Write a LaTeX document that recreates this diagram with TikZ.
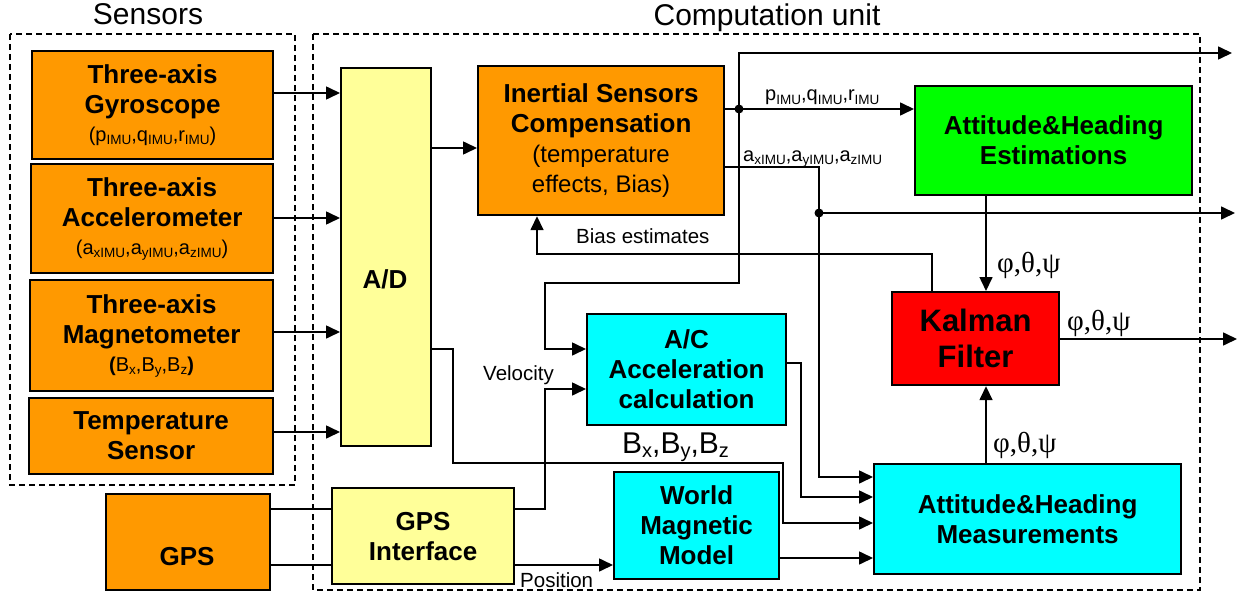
\documentclass[tikz,border=0pt]{standalone}
\usepackage{fontspec}
\setmainfont{Liberation Sans}
\newfontfamily\grk{Liberation Serif}
\usetikzlibrary{arrows.meta}
\newcommand{\sbs}[1]{\raisebox{-0.3ex}{\fontsize{13.5}{13.5}\selectfont #1}}
\newcommand{\sbl}[1]{\raisebox{-0.3ex}{\fontsize{20}{20}\selectfont #1}}
\newcommand{\fs}[2]{\fontsize{#1}{#2}\selectfont}
\definecolor{orng}{HTML}{FF9900}
\definecolor{ylw}{HTML}{FFFF99}
\definecolor{cyn}{HTML}{00FFFF}
\definecolor{grn}{HTML}{00FF00}
\definecolor{rd}{HTML}{FF0000}
\begin{document}
\begin{tikzpicture}[x=1pt,y=-1pt,
  box/.style={draw=black, line width=2.2pt, anchor=north west, inner sep=0pt, align=center, font=\fs{26}{30}\bfseries},
  ln/.style={line width=1.6pt},
  arr/.style={line width=1.6pt, -{Triangle[length=14pt,width=13pt]}},
  grp/.style={line width=1.4pt, dash pattern=on 6pt off 4pt},
  lbl/.style={inner sep=0pt, anchor=base west},
  grklbl/.style={inner sep=0pt, anchor=base west, font=\grk\fs{29}{32}},
  ttl/.style={inner sep=0pt, anchor=base, font=\fs{30}{34}}]
\useasboundingbox (0,0) rectangle (1246,599);

% group frames
\draw[grp] (10,34) rectangle (295,485);
\draw[grp] (313,34) rectangle (1200,590);
\node[ttl] (tsens) at (148,25) {Sensors};
\node[ttl] (tcomp) at (767,26) {Computation unit};

% sensor boxes
\node[box, fill=orng, minimum width=241, minimum height=108] (gyro) at (31,50)
  {Three-axis\\Gyroscope\\[-2pt]{\mdseries\fs{20}{22}(p\sbs{IMU},q\sbs{IMU},r\sbs{IMU})}};
\node[box, fill=orng, minimum width=242, minimum height=109] (acc) at (30,163)
  {Three-axis\\Accelerometer\\[-2pt]{\mdseries\fs{20}{22}(a\sbs{xIMU},a\sbs{yIMU},a\sbs{zIMU})}};
\node[box, fill=orng, minimum width=243, minimum height=111] (mag) at (29,279)
  {Three-axis\\Magnetometer\\[-2pt]{\fs{20}{22}({\mdseries B\sbs{x},B\sbs{y},B\sbs{z}})}};
\node[box, fill=orng, minimum width=244, minimum height=76] (temp) at (28,397)
  {Temperature\\Sensor};
\node[box, fill=orng, minimum width=164, minimum height=96] (gps) at (105,493) {};
\node[font=\fs{26}{30}\bfseries, inner sep=0pt] (gpst) at (187,557) {GPS};

% computation boxes
\node[box, fill=ylw, minimum width=90, minimum height=378] (ad) at (340,67) {};
\node[font=\fs{26}{30}\bfseries, inner sep=0pt] (adt) at (385,279) {A/D};
\node[box, fill=ylw, minimum width=182, minimum height=96] (gpsif) at (331,487)
  {GPS\\Interface};
\node[box, fill=orng, minimum width=246, minimum height=149] (isc) at (477,65)
  {Inertial Sensors\\Compensation\\{\mdseries\fs{24}{28}(temperature}\\{\mdseries\fs{24}{28}effects, Bias)}};
\node[box, fill=grn, minimum width=277, minimum height=109] (ahe) at (914,85)
  {Attitude\&Heading\\Estimations};
\node[box, fill=rd, minimum width=167, minimum height=93, font=\fs{31}{36}\bfseries] (kf) at (891,291)
  {Kalman\\Filter};
\node[box, fill=cyn, minimum width=199, minimum height=111] (accal) at (586,313)
  {A/C\\Acceleration\\calculation};
\node[box, fill=cyn, minimum width=165, minimum height=107] (wmm) at (613,471)
  {World\\Magnetic\\Model};
\node[box, fill=cyn, minimum width=307, minimum height=110] (ahm) at (873,463)
  {Attitude\&Heading\\Measurements};

% free ends and junctions
\coordinate (pj) at (739,109);
\coordinate (aj) at (819,213);
\coordinate (o1) at (1232,53);
\coordinate (o2) at (1235,213);
\coordinate (o3) at (1237,339);

% sensors -> A/D
\draw[arr] (gyro.east|-0,93) -- (ad.west|-0,93);
\draw[arr] (acc.east|-0,218) -- (ad.west|-0,218);
\draw[arr] (mag.east|-0,332) -- (ad.west|-0,332);
\draw[arr] (temp.east|-0,432) -- (ad.west|-0,432);
\draw[ln] (gps.east|-0,509) -- (gpsif.west|-0,509);
\draw[ln] (gps.east|-0,565) -- (gpsif.west|-0,565);

% A/D -> compensation
\draw[arr] (ad.east|-0,148) -- (isc.west|-0,148);

% rates
\draw[arr] (isc.east|-0,109) -- (ahe.west|-0,109);
\draw[arr] (pj) |- (o1);
\draw[arr] (pj) |- (545,283) |- (accal.west|-0,349);
\fill (pj) circle (4.5pt);
\node[lbl, font=\fs{20}{22}] (plbl) at (765,101) {p\sbs{IMU},q\sbs{IMU},r\sbs{IMU}};

% accelerations
\draw[arr] (isc.east|-0,167) -| (819,477) -- (ahm.west|-0,477);
\draw[arr] (aj) -- (o2);
\fill (aj) circle (4.5pt);
\node[lbl, font=\fs{20}{22}] (albl) at (743,161) {a\sbs{xIMU},a\sbs{yIMU},a\sbs{zIMU}};

% bias estimates
\draw[arr] (kf.north-|932,0) |- (537,254) -- (isc.south-|537,0);
\node[lbl, font=\fs{20.5}{24}] (blbl) at (576,243) {Bias estimates};

% estimations -> Kalman
\draw[arr] (ahe.south-|986,0) -- (kf.north-|986,0);
\node[grklbl] (g1) at (997,272) {φ,θ,ψ};
\draw[arr] (kf.east|-0,339) -- (o3);
\node[grklbl] (g2) at (1067,330) {φ,θ,ψ};
\draw[arr] (ahm.north-|986,0) -- (kf.south-|986,0);
\node[grklbl] (g3) at (993,452) {φ,θ,ψ};

% A/C acceleration -> measurements
\draw[arr] (accal.east|-0,363) -| (801,497) -- (ahm.west|-0,497);

% magnetometer -> measurements
\draw[arr] (ad.east|-0,349) -| (453,463) -| (783,523) -- (ahm.west|-0,523);
\node[lbl, font=\fs{30}{34}] (blab) at (622,453) {B\sbl{x},B\sbl{y},B\sbl{z}};

% GPS interface outputs
\draw[arr] (gpsif.east|-0,509) -| (545,389) -- (accal.west|-0,389);
\node[lbl, font=\fs{20.5}{24}] (vlbl) at (483,380) {Velocity};
\draw[arr] (gpsif.east|-0,565) -- (wmm.west|-0,565);
\node[lbl, font=\fs{20.5}{24}] (poslbl) at (520,587) {Position};
\draw[arr] (wmm.east|-0,558) -- (ahm.west|-0,558);
\end{tikzpicture}
\end{document}
